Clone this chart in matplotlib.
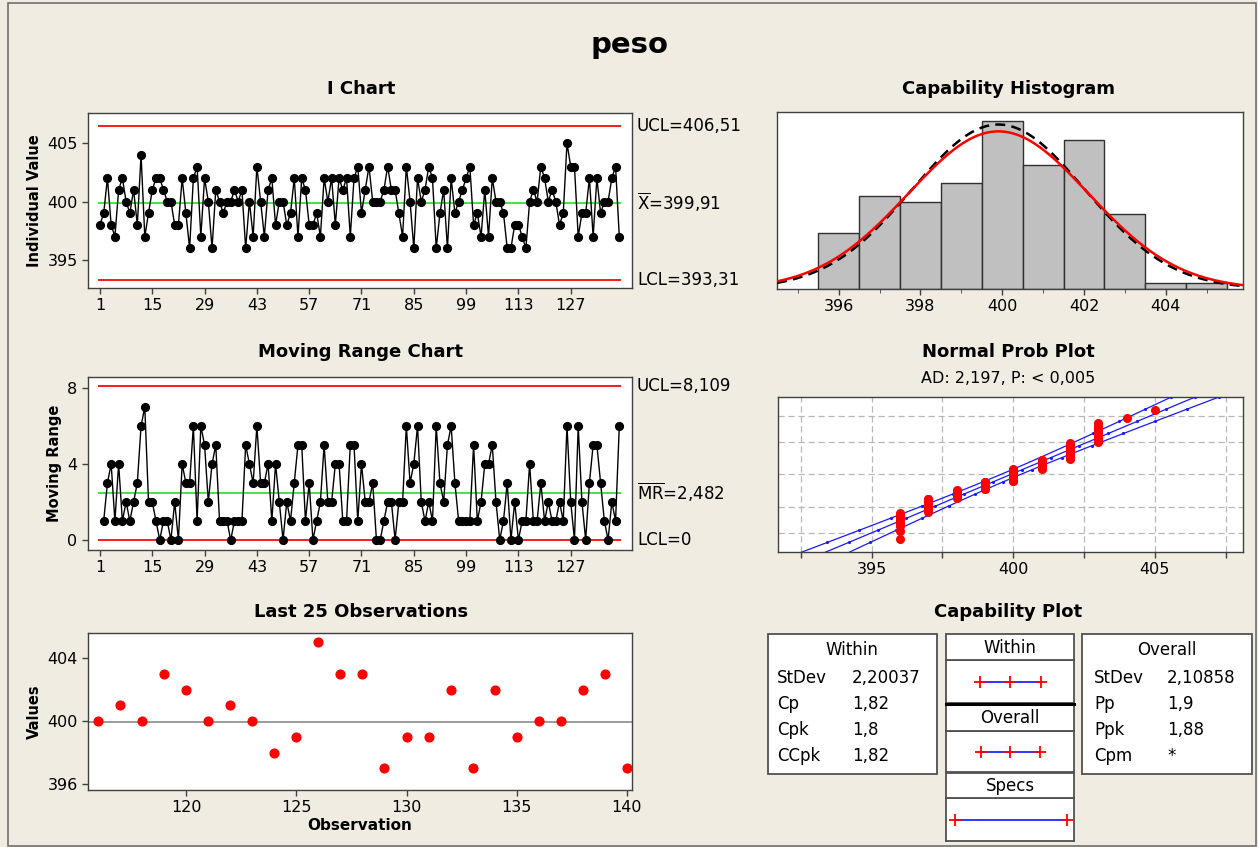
import matplotlib
matplotlib.use('Agg')
import matplotlib.pyplot as plt
import matplotlib.transforms as mtransforms
from matplotlib.patches import Rectangle
from matplotlib.lines import Line2D
import numpy as np
from statistics import NormalDist

plt.rcParams['font.family'] = ['DejaVu Sans']
plt.rcParams['mathtext.fontset'] = 'dejavusans'

# ---------------- data ----------------
peso = [398, 399, 402, 398, 397, 401, 402, 400, 399, 401,
        398, 404, 397, 399, 401, 402, 402, 401, 400, 400,
        398, 398, 402, 399, 396, 402, 403, 397, 402, 400,
        396, 401, 400, 399, 400, 400, 401, 400, 401, 396,
        400, 397, 403, 400, 397, 401, 402, 398, 400, 400,
        398, 399, 402, 397, 402, 401, 398, 398, 399, 397,
        402, 400, 402, 398, 402, 401, 402, 397, 402, 403,
        399, 401, 403, 400, 400, 400, 401, 403, 401, 401,
        399, 397, 403, 400, 396, 402, 400, 401, 403, 402,
        396, 399, 401, 396, 402, 399, 400, 401, 402, 403,
        398, 399, 397, 401, 397, 402, 400, 400, 399, 396,
        396, 398, 398, 397, 396, 400, 401, 400, 403, 402,
        400, 401, 400, 398, 399, 405, 403, 403, 397, 399,
        399, 402, 397, 402, 399, 400, 400, 402, 403, 397]
observations = list(range(1, len(peso) + 1))

i_ucl, i_center, i_lcl = 406.51, 399.91, 393.31
mr_ucl, mr_center, mr_lcl = 8.109, 2.482, 0.0
i_limit_labels = ['UCL=406,51', r'$\mathrm{\overline{X}}$=399,91', 'LCL=393,31']
mr_limit_labels = ['UCL=8,109', r'$\mathrm{\overline{MR}}$=2,482', 'LCL=0']

stdev_within = 2.20037
stdev_overall = 2.10858
lsl, usl = 388.0, 412.0

i_xticks = [1, 15, 29, 43, 57, 71, 85, 99, 113, 127]
i_yticks = [395, 400, 405]
mr_yticks = [0, 4, 8]
last_xticks = [120, 125, 130, 135, 140]
last_yticks = [396, 400, 404]
hist_major = [396, 398, 400, 402, 404]
hist_minor = [395, 397, 399, 401, 403, 405]
npp_ticks = [392.5, 395, 397.5, 400, 402.5, 405, 407.5]
npp_labels = ['', '395', '', '400', '', '405', '']
npp_grid_pct = [1, 10, 50, 90, 99]

within_names = ['StDev', 'Cp', 'Cpk', 'CCpk']
within_values = ['2,20037', '1,82', '1,8', '1,82']
overall_names = ['StDev', 'Pp', 'Ppk', 'Cpm']
overall_values = ['2,10858', '1,9', '1,88', '*']

main_title = 'peso'
ad_text = 'AD: 2,197, P: < 0,005'

# ---------------- layout helpers ----------------
W, H = 1258, 847
BG = '#f0ece2'
RED = '#ff1a1a'
GREEN = '#22e022'
fig = plt.figure(figsize=(W / 100, H / 100), dpi=100, facecolor=BG)


def ax_px(x0, y0, x1, y1):
    return fig.add_axes([x0 / W, 1 - y1 / H, (x1 - x0) / W, (y1 - y0) / H])


def ftext(x, y, s, **kw):
    fig.text(x / W, 1 - y / H, s, **kw)


def frect(x0, y0, x1, y1, **kw):
    fig.patches.append(Rectangle((x0 / W, 1 - y1 / H), (x1 - x0) / W, (y1 - y0) / H,
                                 transform=fig.transFigure, **kw))


def style(ax):
    ax.set_facecolor('white')
    for s in ax.spines.values():
        s.set_color('#404040')
        s.set_linewidth(1.0)
    ax.tick_params(direction='out', length=4, width=1, labelsize=11.5, color='#404040')


TICK = 11.5
TITLE = 13
LAB = 10.5

# border of figure
frect(8, 3, 1256, 846, facecolor='none', edgecolor='#707070', lw=1.2)

ftext(630, 45, main_title, ha='center', va='center', fontsize=21, fontweight='bold')

# ---------------- I chart ----------------
ax = ax_px(88, 113, 632, 288)
style(ax)
ax.plot(observations, peso, color='black', lw=1.0, marker='o', ms=5.6,
        mfc='black', mec='black', zorder=3)
ax.hlines([i_ucl, i_lcl], 0.5, 140.5, colors=RED, lw=1.4, zorder=2)
ax.hlines(i_center, 0.5, 140.5, colors=GREEN, lw=1.2, zorder=2)
ax.set_xlim(-2.2, 143.4)
ax.set_ylim(392.59, 407.59)
ax.set_xticks(i_xticks)
ax.set_yticks(i_yticks)
ax.set_ylabel('Individual Value', fontsize=LAB, fontweight='bold')
tr = mtransforms.blended_transform_factory(ax.transAxes, ax.transData)
for v, s in zip([i_ucl, i_center, i_lcl], i_limit_labels):
    ax.text(1.009, v, s, transform=tr, va='center', ha='left', fontsize=12)
ftext(361, 89, 'I Chart', ha='center', va='center', fontsize=TITLE, fontweight='bold')

# ---------------- Moving range chart ----------------
mr = np.abs(np.diff(np.array(peso, dtype=float)))
ax = ax_px(88, 377, 632, 550)
style(ax)
ax.plot(observations[1:], mr, color='black', lw=1.0, marker='o', ms=5.6,
        mfc='black', mec='black', zorder=3)
ax.hlines([mr_ucl, mr_lcl], 0.5, 140.5, colors=RED, lw=1.4, zorder=2)
ax.hlines(mr_center, 0.5, 140.5, colors=GREEN, lw=1.2, zorder=2)
ax.set_xlim(-2.2, 143.4)
ax.set_ylim(-0.53, 8.58)
ax.set_xticks(i_xticks)
ax.set_yticks(mr_yticks)
ax.set_ylabel('Moving Range', fontsize=LAB, fontweight='bold')
tr = mtransforms.blended_transform_factory(ax.transAxes, ax.transData)
for v, s in zip([mr_ucl, mr_center, mr_lcl], mr_limit_labels):
    ax.text(1.009, v, s, transform=tr, va='center', ha='left', fontsize=12)
ftext(361, 352, 'Moving Range Chart', ha='center', va='center', fontsize=TITLE, fontweight='bold')

# ---------------- Last 25 observations ----------------
ax = ax_px(88, 633, 632, 790)
style(ax)
ax.plot(observations[-25:], peso[-25:], 'o', color='red', ms=6.3, zorder=3)
ax.axhline(i_center, color='#808080', lw=1.1, zorder=2)
ax.set_xlim(115.55, 140.23)
ax.set_ylim(395.62, 405.59)
ax.set_xticks(last_xticks)
ax.set_yticks(last_yticks)
ax.set_ylabel('Values', fontsize=LAB, fontweight='bold')
ax.set_xlabel('Observation', fontsize=11, fontweight='bold', labelpad=2)
ftext(361, 612, 'Last 25 Observations', ha='center', va='center', fontsize=TITLE, fontweight='bold')

# ---------------- Capability histogram ----------------
data = np.array(peso, dtype=float)
n = len(data)
mean = data.mean()
ax = ax_px(777, 112, 1243, 289)
style(ax)
bins = np.arange(min(peso) - 0.5, max(peso) + 1.5, 1.0)
ax.hist(data, bins=bins, color='#c0c0c0', edgecolor='#303030', lw=1.0, zorder=2)
xs = np.linspace(394.49, 405.89, 400)


def npdf(x, m, s):
    return np.exp(-0.5 * ((x - m) / s) ** 2) / (s * np.sqrt(2 * np.pi))


ax.plot(xs, n * npdf(xs, mean, stdev_overall), color='black', lw=1.8, ls=(0, (4, 2.5)), zorder=3)
ax.plot(xs, n * npdf(xs, mean, stdev_within), color='red', lw=1.8, zorder=4)
ax.set_xlim(394.49, 405.89)
ax.set_ylim(0, 28.5)
ax.set_xticks(hist_major)
ax.set_xticks(hist_minor, minor=True)
ax.tick_params(axis='x', which='minor', direction='out', length=3, color='#404040')
ax.set_yticks([])
ftext(1008, 89, 'Capability Histogram', ha='center', va='center', fontsize=TITLE, fontweight='bold')

# ---------------- Normal probability plot ----------------
nd = NormalDist()
ax = ax_px(778, 397, 1243, 552)
style(ax)
srt = np.sort(data)
pp = (np.arange(1, n + 1) - 0.3) / (n + 0.4)
zs = np.array([nd.inv_cdf(p) for p in pp])
zlim = nd.inv_cdf(0.999)
zg = np.linspace(-zlim - 0.1, zlim + 0.1, 120)
xc = mean + zg * stdev_overall
se = stdev_overall * np.sqrt(1.0 / n + zg ** 2 / (2 * (n - 1)))
for xx in (xc, xc - 1.96 * se, xc + 1.96 * se):
    ax.plot(xx, zg, color='#1a1aff', lw=0.9, marker='.', ms=2.5, markevery=9, zorder=3)
ax.plot(srt, zs, 'o', color='red', ms=5.5, zorder=4)
ax.set_xlim(391.70, 408.11)
ax.set_ylim(-zlim, zlim)
ax.set_xticks(npp_ticks)
ax.set_xticklabels(npp_labels)
ax.set_yticks([nd.inv_cdf(p / 100) for p in npp_grid_pct])
ax.tick_params(axis='y', length=0, labelleft=False)
ax.grid(True, color='#b8b8b8', ls=(0, (5, 3)), lw=0.9, zorder=1)
ftext(1008, 352, 'Normal Prob Plot', ha='center', va='center', fontsize=TITLE, fontweight='bold')
ftext(1008, 378, ad_text, ha='center', va='center', fontsize=11.5)

# ---------------- Capability plot ----------------
ftext(1008, 612, 'Capability Plot', ha='center', va='center', fontsize=TITLE, fontweight='bold')
EDGE = '#505050'
# within box
frect(768, 634, 937, 774, facecolor='white', edgecolor=EDGE, lw=1.3)
ftext(852, 650, 'Within', ha='center', va='center', fontsize=12)
for k, (nm, vl) in enumerate(zip(within_names, within_values)):
    y = 678 + k * 26
    ftext(777, y, nm, ha='left', va='center', fontsize=12)
    ftext(852, y, vl, ha='left', va='center', fontsize=12)
# overall box
frect(1082, 634, 1252, 774, facecolor='white', edgecolor=EDGE, lw=1.3)
ftext(1167, 650, 'Overall', ha='center', va='center', fontsize=12)
for k, (nm, vl) in enumerate(zip(overall_names, overall_values)):
    y = 678 + k * 26
    ftext(1094, y, nm, ha='left', va='center', fontsize=12)
    ftext(1167, y, vl, ha='left', va='center', fontsize=12)

# middle column
frect(946, 634, 1074, 660, facecolor='white', edgecolor=EDGE, lw=1.3)
ftext(1010, 648, 'Within', ha='center', va='center', fontsize=12)
frect(946, 705, 1074, 731, facecolor='white', edgecolor=EDGE, lw=1.3)
ftext(1010, 718, 'Overall', ha='center', va='center', fontsize=12)
frect(946, 773, 1074, 798, facecolor='white', edgecolor=EDGE, lw=1.3)
ftext(1010, 786, 'Specs', ha='center', va='center', fontsize=12)

cap_xlim = (386.07, 413.57)
boxes = [(660, 703, [mean - 3 * stdev_within, mean, mean + 3 * stdev_within]),
         (731, 772, [mean - 3 * stdev_overall, mean, mean + 3 * stdev_overall]),
         (798, 841, [lsl, usl])]
for y0, y1, marks in boxes:
    a = ax_px(946, y0, 1074, y1)
    a.set_facecolor('white')
    for s in a.spines.values():
        s.set_color(EDGE)
        s.set_linewidth(1.3)
    a.set_xlim(*cap_xlim)
    a.set_ylim(0, 1)
    a.set_xticks([])
    a.set_yticks([])
    a.plot([marks[0], marks[-1]], [0.5, 0.5], color='#3333ff', lw=1.4, zorder=2)
    a.plot(marks, [0.5] * len(marks), '+', color='red', ms=9, mew=1.3, zorder=3)

fig.add_artist(Line2D([946 / W, 1074 / W], [1 - 704 / H, 1 - 704 / H], color='black', lw=2.2))

fig.savefig('out.png', dpi=100, facecolor=BG)
